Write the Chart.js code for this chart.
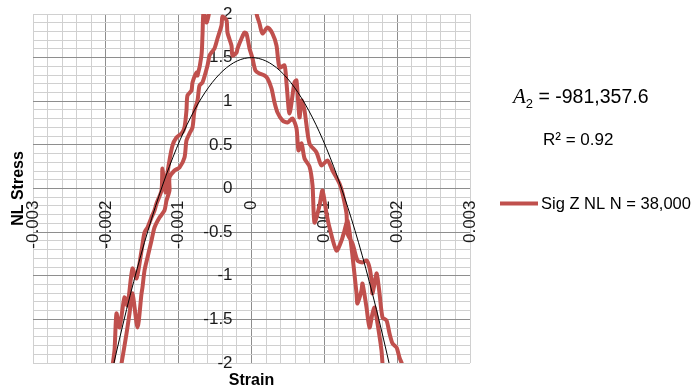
<!DOCTYPE html>
<html>
<head>
<meta charset="utf-8">
<script src="https://cdn.jsdelivr.net/npm/chart.js@4.4.1/dist/chart.umd.min.js"></script>
<style>
  html, body { margin: 0; padding: 0; background: #fff; }
  #wrap { width: 695px; height: 389px; position: relative; }
</style>
</head>
<body>
<div id="wrap"><canvas id="c" width="695" height="389"></canvas></div>
<script>
// Non-linear stress vs strain loop, N = 38,000 cycles.
// Two passes around the loop; null breaks the line between them.
const seriesLabel = 'Sig Z NL N = 38,000';
const loopStrain = [
  // pass 1
  -0.001922, -0.001881, -0.001854, -0.001812, -0.001744, -0.001703, -0.001634, -0.001579,
  -0.001510, -0.001469, -0.001428, -0.001373, -0.001332, -0.001304, -0.001236, -0.001222,
  -0.001181, -0.001153, -0.001085, -0.001030, -0.000961, -0.000920, -0.000893, -0.000879,
  -0.000824, -0.000810, -0.000755, -0.000741, -0.000687, -0.000673, -0.000659, -0.000618,
  -0.000590, -0.000563, -0.000508, 0.000041, 0.000069, 0.000110, 0.000151, 0.000220,
  0.000288, 0.000343, 0.000384, 0.000453, 0.000481, 0.000522, 0.000590, 0.000618,
  0.000659, 0.000687, 0.000728, 0.000796, 0.000893, 0.000961, 0.001044, 0.001112,
  0.001208, 0.001250, 0.001304, 0.001318, 0.001387, 0.001455, 0.001524, 0.001579,
  0.001620, 0.001648, 0.001661, 0.001716, 0.001730, 0.001758, 0.001799, 0.001854,
  0.001895, 0.001936, 0.001991, 0.002032, 0.002073, 0.002101,
  null,
  // pass 2
  -0.001812, -0.001785, -0.001716, -0.001675, -0.001634, -0.001565, -0.001510, -0.001497,
  -0.001469, -0.001428, -0.001373, -0.001332, -0.001263, -0.001195, -0.001167, -0.001126,
  -0.001126, -0.001057, -0.000989, -0.000920, -0.000893, -0.000851, -0.000810, -0.000783,
  -0.000741, -0.000714, -0.000673, -0.000604, -0.000577, -0.000549, -0.000508, -0.000467,
  -0.000412, -0.000398, -0.000343, -0.000330, -0.000275, -0.000261, -0.000206, -0.000192,
  -0.000137, -0.000096, -0.000069, -0.000027, 0.000014, 0.000055, 0.000110, 0.000179,
  0.000220, 0.000275, 0.000316, 0.000357, 0.000426, 0.000494, 0.000563, 0.000618,
  0.000645, 0.000687, 0.000728, 0.000796, 0.000838, 0.000865, 0.000934, 0.000975,
  0.001030, 0.001071, 0.001167, 0.001236, 0.001277, 0.001318, 0.001373, 0.001442,
  0.001455, 0.001510, 0.001524, 0.001579, 0.001620, 0.001661, 0.001689, 0.001730,
  0.001785, 0.001799, 0.001826
];
const loopStress = [
  // pass 1
  -2.109, -1.857, -1.433, -1.593, -1.249, -1.341, -0.917, -1.031,
  -0.711, -0.504, -0.447, -0.332, -0.252, -0.172, -0.023, 0.229,
  -0.046, 0.183, 0.493, 0.585, 0.630, 0.699, 0.894, 1.066,
  1.123, 1.215, 1.329, 1.295, 1.524, 1.754, 2.017, 1.903,
  1.983, 2.109, 2.384, 2.384, 2.006, 1.891, 1.776, 1.845,
  1.776, 1.639, 1.387, 1.410, 1.203, 0.860, 1.215, 1.238,
  0.814, 1.009, 0.894, 0.516, 0.413, 0.264, 0.321, 0.206,
  0.057, -0.057, -0.287, -0.516, -0.630, -0.825, -0.848, -0.825,
  -0.905, -1.054, -1.203, -0.974, -1.020, -1.203, -1.478, -1.513,
  -1.662, -1.776, -1.822, -1.937, -2.029, -2.143,
  null,
  // pass 2
  -2.109, -2.006, -1.662, -1.433, -1.203, -1.593, -1.203, -1.135,
  -0.940, -0.791, -0.596, -0.447, -0.332, -0.252, -0.138, -0.023,
  0.126, 0.206, 0.241, 0.355, 0.550, 0.630, 0.699, 0.894,
  1.009, 1.180, 1.215, 1.410, 1.524, 1.559, 1.605, 1.719,
  1.868, 1.971, 1.926, 1.788, 1.639, 1.524, 1.559, 1.605,
  1.719, 1.788, 1.776, 1.605, 1.490, 1.352, 1.318, 1.295,
  1.261, 1.146, 0.986, 0.871, 0.779, 0.756, 0.802, 0.688,
  0.436, 0.516, 0.344, 0.252, 0.034, -0.390, -0.195, -0.023,
  -0.287, -0.447, -0.711, -0.596, -0.481, -0.367, -0.676, -1.203,
  -1.318, -1.169, -1.089, -1.364, -1.593, -1.433, -1.364, -1.547,
  -1.857, -2.006, -2.143
];

// Quadratic trend line: stress = A2 * strain^2 + A0
const fitA2 = -981357.6;
const fitA0 = 1.5;
const fitR2 = 0.92;
const fitStrainFrom = -0.00196;
const fitStrainTo = 0.00196;
const fitSamples = 80;

// Axes
const xTickValues = [-0.003, -0.002, -0.001, 0, 0.001, 0.002, 0.003];
const xTickLabels = ['-0.003', '-0.002', '-0.001', '0', '0.001', '0.002', '0.003'];
const yTickValues = [-2, -1.5, -1, -0.5, 0, 0.5, 1, 1.5, 2];
const yTickLabels = ['-2', '-1.5', '-1', '-0.5', '0', '0.5', '1', '1.5', '2'];
const xMinorStep = 0.0002;
const yMinorStep = 0.1;
const xTitle = 'Strain';
const yTitle = 'NL Stress';
// stress labels sit a little to the left of the zero-strain line
const yLabelStrain = -0.00026;

const RED = '#C0504D';
const MAJOR = '#8E8E8E';
const MINOR = '#D0D0D0';
const FONT = '"Liberation Sans", Arial, sans-serif';

const loopPoints = loopStrain.map((x, i) => ({ x: x, y: loopStress[i] }));
const fitPoints = [];
for (let i = 0; i <= fitSamples; i++) {
  const x = fitStrainFrom + (fitStrainTo - fitStrainFrom) * i / fitSamples;
  fitPoints.push({ x: x, y: fitA2 * x * x + fitA0 });
}

function findIndex(values, v, tol) {
  for (let i = 0; i < values.length; i++) if (Math.abs(values[i] - v) < tol) return i;
  return -1;
}
function gridColour(values, tol, min, max) {
  return (ctx) => {
    const v = ctx.tick.value;
    if (Math.abs(v - min) < tol || Math.abs(v - max) < tol) return MINOR;
    return findIndex(values, v, tol) >= 0 ? MAJOR : MINOR;
  };
}
function noScalePadding(scale) {
  scale.paddingLeft = 0; scale.paddingRight = 0;
  scale.paddingTop = 0; scale.paddingBottom = 0;
}

const textPlugin = {
  id: 'textPlugin',
  afterDraw(chart) {
    const ctx = chart.ctx;
    const a = chart.chartArea;
    ctx.save();
    ctx.fillStyle = '#000';
    // axis titles
    ctx.font = 'bold 16px ' + FONT;
    ctx.textAlign = 'center';
    ctx.textBaseline = 'middle';
    ctx.fillText(xTitle, (a.left + a.right) / 2, a.bottom + 18);
    ctx.save();
    ctx.translate(a.left - 14, (a.top + a.bottom) / 2);
    ctx.rotate(-Math.PI / 2);
    ctx.fillText(yTitle, 0, 0);
    ctx.restore();

    // trend line equation
    ctx.textAlign = 'left';
    ctx.textBaseline = 'alphabetic';
    let x = 513;
    const base = 103;
    ctx.font = 'italic 21px "Liberation Serif", "DejaVu Serif", serif';
    ctx.fillText('A', x, base);
    x += ctx.measureText('A').width;
    ctx.font = '13px ' + FONT;
    ctx.fillText('2', x, base + 5);
    x += ctx.measureText('2').width;
    ctx.font = '19.5px ' + FONT;
    const a2Text = ' = ' + fitA2.toLocaleString('en-US', { minimumFractionDigits: 1, maximumFractionDigits: 1 });
    ctx.fillText(a2Text, x, base);

    ctx.font = '17px ' + FONT;
    ctx.fillText('R\u00B2 = ' + fitR2.toFixed(2), 543, 145);

    // legend entry
    const ds = chart.data.datasets[1];
    ctx.strokeStyle = ds.borderColor;
    ctx.lineWidth = 4;
    ctx.beginPath();
    ctx.moveTo(500, 203.5);
    ctx.lineTo(538, 203.5);
    ctx.stroke();
    ctx.font = '16.5px ' + FONT;
    ctx.fillText(ds.label, 541, 209);
    ctx.restore();
  }
};

new Chart(document.getElementById('c'), {
  type: 'line',
  data: {
    datasets: [
      {
        label: 'Poly. fit',
        data: fitPoints,
        borderColor: '#000000',
        borderWidth: 1,
        pointRadius: 0,
        tension: 0,
        order: 0,
        clip: 0
      },
      {
        label: seriesLabel,
        data: loopPoints,
        borderColor: RED,
        borderWidth: 4,
        pointRadius: 0,
        tension: 0.25,
        spanGaps: false,
        borderJoinStyle: 'round',
        borderCapStyle: 'round',
        order: 1,
        clip: 0
      }
    ]
  },
  options: {
    responsive: false,
    animation: false,
    devicePixelRatio: 1,
    layout: { padding: { left: 33, top: 14, right: 225, bottom: 26 } },
    elements: { line: { capBezierPoints: false } },
    plugins: { legend: { display: false }, tooltip: { enabled: false } },
    scales: {
      x: {
        type: 'linear',
        position: { y: 0 },
        min: -0.003,
        max: 0.003,
        afterFit: noScalePadding,
        border: { display: false },
        grid: {
          drawTicks: false,
          color: gridColour(xTickValues, 1e-7, -0.003, 0.003),
          lineWidth: 1
        },
        ticks: {
          stepSize: xMinorStep,
          autoSkip: false,
          minRotation: 90,
          maxRotation: 90,
          padding: 12,
          color: '#1a1a1a',
          font: { family: FONT, size: 17 },
          callback: (v) => {
            const i = findIndex(xTickValues, v, 1e-7);
            return i >= 0 ? xTickLabels[i] : '';
          }
        }
      },
      y: {
        type: 'linear',
        position: { x: yLabelStrain },
        min: -2,
        max: 2,
        afterFit: noScalePadding,
        border: { display: false },
        grid: {
          drawTicks: false,
          color: gridColour(yTickValues, 1e-6, -2, 2),
          lineWidth: 1
        },
        ticks: {
          stepSize: yMinorStep,
          autoSkip: false,
          padding: 0,
          color: '#1a1a1a',
          font: { family: FONT, size: 17 },
          callback: (v) => {
            const i = findIndex(yTickValues, v, 1e-6);
            return i >= 0 ? yTickLabels[i] : '';
          }
        }
      }
    }
  },
  plugins: [textPlugin]
});
</script>
</body>
</html>
